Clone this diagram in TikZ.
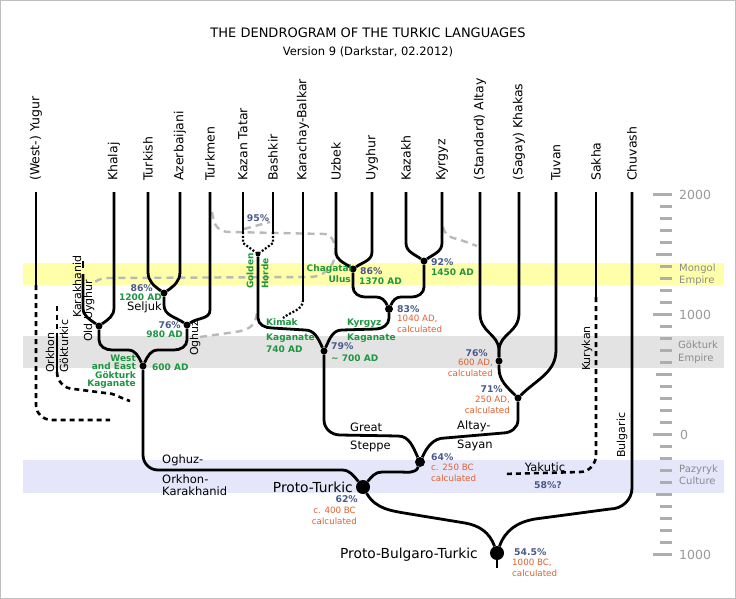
\documentclass[tikz,border=0pt]{standalone}
\usepackage{fontspec}
\setmainfont{DejaVu Sans}
\usepackage{tikz}

\definecolor{pctblue}{HTML}{4A5A8C}
\definecolor{eragreen}{HTML}{1E9640}
\definecolor{calcorange}{HTML}{E0602E}
\definecolor{axisgray}{HTML}{9A9A9A}
\definecolor{mongolband}{HTML}{FFFFAA}
\definecolor{gokturkband}{HTML}{E3E3E3}
\definecolor{pazyrykband}{HTML}{E5E6FA}

\tikzset{
  branch/.style={line width=2.8pt},
  lost/.style={line width=2.6pt, dash pattern=on 5pt off 4pt},
  merged/.style={line width=2.2pt, dash pattern=on 2pt off 1.8pt},
  zone/.style={line width=2.4pt, gray!55, dash pattern=on 7pt off 5pt},
  junction/.style={circle, fill=black, inner sep=0pt, minimum size=#1},
  yeartick/.style={line width=3.2pt, axisgray!80},
  lang/.style={rotate=90, anchor=west, inner sep=0pt, font=\fontsize{12.5}{15}\selectfont},
  vlabel/.style={rotate=90, anchor=west, inner sep=0pt, font=\fontsize{11}{13}\selectfont},
  note/.style={inner sep=0pt, font=\fontsize{11.5}{13}\selectfont},
  proto/.style={inner sep=0pt, font=\fontsize{13.8}{16}\selectfont},
  pct/.style={inner sep=0pt, text=pctblue, font=\fontsize{9.3}{11}\selectfont\bfseries},
  era/.style={inner sep=0pt, text=eragreen, font=\fontsize{9}{10}\selectfont\bfseries},
  calclabel/.style={inner sep=0pt, text=calcorange, font=\fontsize{8.7}{10}\selectfont},
  yearlabel/.style={inner sep=0pt, anchor=west, text=axisgray, font=\fontsize{12.5}{14}\selectfont},
  bandlabel/.style={inner sep=0pt, anchor=west, align=left, text=axisgray!90!black, font=\fontsize{10}{12.5}\selectfont}
}

\begin{document}
\begin{tikzpicture}[x=1pt,y=1pt]
\useasboundingbox (0,0) rectangle (736,-599);
\fill[white] (0,0) rectangle (736,-599);
\draw[gray!50, line width=1pt] (0.5,-0.5) rectangle (735.5,-598.5);

% periods
\fill[mongolband] (23,-263) rectangle (724,-285);
\fill[gokturkband] (23,-336) rectangle (724,-368);
\fill[pazyrykband] (23,-460) rectangle (724,-493);

\node[font=\fontsize{13}{15}\selectfont] (title) at (368,-33) {THE DENDROGRAM OF THE TURKIC LANGUAGES};
\node[font=\fontsize{11.5}{13}\selectfont] (subtitle) at (368,-52) {Version 9 (Darkstar, 02.2012)};

% languages
\foreach \n/\x/\t in {yug/36/(West-) Yugur, kha/114/Khalaj, tur/148/Turkish, aze/180/Azerbaijani,
    tkm/210/Turkmen, tat/243/Kazan Tatar, bas/273/Bashkir, kar/303/Karachay-Balkar,
    uzb/336/Uzbek, uyg/372/Uyghur, kaz/406/Kazakh, kyr/442/Kyrgyz,
    alt/480/(Standard) Altay, khk/519/(Sagay) Khakas, tuv/556/Tuvan, sak/596/Sakha, chu/632/Chuvash}
{
  \coordinate (\n) at (\x,-192);
  \node[lang] (l\n) at (\x,-181) {\t};
}

% time axis
\foreach \yr in {2000,1900,...,-1000}
{
  \pgfmathsetmacro\tickx{mod(\yr,1000)==0 ? 653 : (mod(\yr,500)==0 ? 656 : 660)}
  \draw[yeartick] (\tickx,{-434.5+0.12*\yr}) -- (672,{-434.5+0.12*\yr});
}
\node[yearlabel] (y2000) at (679,-194.5) {2000};
\node[yearlabel] (y1000) at (679,-314.5) {1000};
\node[yearlabel] (y0) at (680,-434.5) {0};
\node[yearlabel] (ym1000) at (679,-554.5) {1000};
\node[bandlabel] (bmongol) at (679,-274.5) {Mongol\\Empire};
\node[bandlabel] (bgokturk) at (678,-352) {Gökturk\\Empire};
\node[bandlabel] (bpazyryk) at (679,-475) {Pazyryk\\Culture};

% areas
\coordinate (zstart) at (212,-212);
\coordinate (zend) at (92,-285);
\draw[zone] (zstart) .. controls (214,-226) and (218,-232) .. (230,-232) -- (325,-234)
  .. controls (333,-235) and (336,-245) .. (335,-255) .. controls (334,-268) and (322,-277) .. (310,-277)
  -- (108,-278) .. controls (100,-278) and (95,-281) .. (zend);
\coordinate (zkt) at (244,-229);
\coordinate (zbs) at (270,-222);
\draw[zone] (zkt) -- (zbs);
\coordinate (zogh) at (200,-337);
\coordinate (zkip) at (257,-312);
\draw[zone] (zogh) -- (235,-332) .. controls (250,-330) and (256,-325) .. (zkip);
\coordinate (zkyr) at (443,-227);
\coordinate (zalt) at (477,-246);
\draw[zone] (zkyr) .. controls (445,-235) and (450,-238) .. (458,-239) -- (zalt);

% junctions
\node[junction=7pt] (oldu) at (99,-326) {};
\node[junction=7pt] (selj) at (164,-293) {};
\node[junction=7pt] (oghz) at (187,-325) {};
\node[junction=7pt] (wegk) at (143,-366) {};
\node[junction=5pt] (gold) at (258,-254) {};
\node[junction=7pt] (kipc) at (324,-351) {};
\node[junction=7pt] (chag) at (353,-269) {};
\node[junction=7pt] (kyrn) at (424,-261) {};
\node[junction=8pt] (kyrk) at (389,-309) {};
\node[junction=7pt] (altn) at (499,-361) {};
\node[junction=7pt] (asay) at (518,-398) {};
\node[junction=10pt] (ctur) at (420,-462) {};
\node[junction=14pt] (ptur) at (363,-487) {};
\node[junction=14pt] (pbt) at (497,-553) {};

% Yugur, Orkhon, Karakhanid
\coordinate (yugs) at (36,-285);
\coordinate (yuge) at (110,-420);
\draw[branch] (yug) -- (yugs);
\draw[lost] (yugs) -- (36,-405) to[out=-90,in=180] (52,-420) -- (yuge);
\coordinate (orkt) at (57,-306);
\coordinate (orks) at (57,-333);
\coordinate (orkb) at (57,-372);
\coordinate (orke) at (130,-401);
\draw[lost] (orkt) -- (orks);
\draw[branch] (orks) -- (orkb);
\draw[lost] (orkb) to[out=-90,in=180] (74,-389) -- (105,-393) to[out=0,in=165] (orke);
\coordinate (karkt) at (83,-261);
\coordinate (karkd) at (83,-268);
\coordinate (karks) at (83,-274);
\draw[branch] (karkt) -- (karkd);
\draw[branch] (karks) -- (83,-308) to[out=-90,in=145] (oldu);
\draw[branch] (kha) -- (114,-308) to[out=-90,in=35] (oldu);

% Oghuz
\draw[branch] (tur) -- (148,-272) to[out=-90,in=145] (selj);
\draw[branch] (aze) -- (180,-272) to[out=-90,in=35] (selj);
\draw[branch] (selj) -- (164,-305) to[out=-90,in=145] (oghz);
\draw[branch] (tkm) -- (210,-310) to[out=-90,in=35] (oghz);
\draw[branch] (oldu) -- (99,-340) to[out=-90,in=180] (112,-350) -- (128,-350) to[out=0,in=115] (wegk);
\draw[branch] (oghz) -- (187,-340) to[out=-90,in=0] (174,-350) -- (158,-350) to[out=180,in=65] (wegk);
\draw[branch] (wegk) -- (143,-455) to[out=-90,in=180] (158,-470) -- (342,-470) to[out=0,in=130] (ptur);

% Kipchak
\coordinate (tatd) at (243,-232);
\coordinate (basd) at (273,-232);
\coordinate (kard) at (303,-300);
\coordinate (kare) at (283,-318);
\draw[branch] (tat) -- (tatd);
\draw[branch] (bas) -- (basd);
\draw[merged] (tatd) -- (243,-243) -- (gold);
\draw[merged] (basd) -- (273,-243) -- (gold);
\draw[branch] (kar) -- (kard);
\draw[merged] (kard) to[out=-90,in=40] (kare);
\draw[branch] (gold) -- (258,-318) to[out=-90,in=180] (272,-328) -- (305,-330) to[out=0,in=115] (kipc);

% Karluk and Kyrgyz
\draw[branch] (uzb) -- (336,-252) to[out=-90,in=145] (chag);
\draw[branch] (uyg) -- (372,-252) to[out=-90,in=35] (chag);
\draw[branch] (kaz) -- (406,-243) to[out=-90,in=145] (kyrn);
\draw[branch] (kyr) -- (442,-243) to[out=-90,in=35] (kyrn);
\draw[branch] (chag) -- (353,-287) to[out=-90,in=180] (365,-297) -- (376,-297) to[out=0,in=115] (kyrk);
\draw[branch] (kyrn) -- (424,-287) to[out=-90,in=0] (412,-297) -- (401,-297) to[out=180,in=65] (kyrk);
\draw[branch] (kyrk) -- (389,-318) to[out=-90,in=0] (376,-329) -- (342,-330) to[out=180,in=65] (kipc);
\draw[branch] (kipc) -- (324,-420) to[out=-90,in=180] (340,-435) -- (398,-436) to[out=0,in=115] (ctur);

% Altay-Sayan
\draw[branch] (alt) -- (480,-313) .. controls (480,-333) and (498,-333) .. (499,-350) -- (altn);
\draw[branch] (khk) -- (519,-313) .. controls (519,-333) and (500,-333) .. (499,-350) -- (altn);
\draw[branch] (altn) -- (499,-368) to[out=-90,in=135] (asay);
\draw[branch] (tuv) -- (556,-350) to[out=-90,in=45] (asay);
\draw[branch] (asay) -- (518,-420) to[out=-90,in=0] (503,-433) -- (445,-438) to[out=180,in=65] (ctur);

% Sakha
\coordinate (saks) at (596,-297);
\coordinate (sake) at (503,-474);
\draw[branch] (sak) -- (saks);
\draw[lost] (saks) -- (596,-455) to[out=-90,in=0] (580,-472) -- (sake);

% roots
\coordinate (pbtb) at (497,-568);
\draw[branch] (ctur) to[out=-110,in=0] (400,-472) -- (382,-472) to[out=180,in=50] (ptur);
\draw[branch] (ptur) to[out=-60,in=170] (410,-514) -- (465,-523) to[out=-10,in=110] (pbt);
\draw[branch] (chu) -- (632,-488) to[out=-90,in=0] (610,-509) -- (535,-519) to[out=190,in=70] (pbt);
\draw[branch] (pbt) -- (pbtb);

% labels
\node[pct, anchor=east] (p86s) at (153,-288) {86\%};
\node[era, anchor=east] (d1200) at (162,-297) {1200 AD};
\node[note, anchor=east] (tselj) at (162,-307) {Seljuk};
\node[pct, anchor=east] (p76o) at (181,-325) {76\%};
\node[era, anchor=east] (d980) at (183,-334) {980 AD};
\node[vlabel] (toghz) at (195,-356) {Oghuz};
\node[era, anchor=west] (d600) at (152,-367) {600 AD};
\node[era, anchor=east, align=right, font=\fontsize{9}{8.4}\selectfont\bfseries] (twegk) at (136,-371.5) {West\\and East\\Gökturk\\Kaganate};
\node[vlabel] (toldu) at (89,-342) {Old Uyghur};
\node[vlabel] (tkarak) at (77,-318) {Karakhanid};
\node[vlabel] (torkh) at (50,-373) {Orkhon};
\node[vlabel] (tgokt) at (64,-373) {Gökturkic};

\node[pct] (p95) at (258,-218) {95\%};
\node[era, rotate=90, anchor=west] (tgold) at (250,-289) {Golden};
\node[era, rotate=90, anchor=west] (thorde) at (265,-289) {Horde};
\node[era, anchor=west] (tkimak) at (266,-322) {Kimak};
\node[era, anchor=west] (tkimkag) at (266,-338) {Kaganate};
\node[era, anchor=west] (d740) at (266,-349) {740 AD};
\node[pct, anchor=west] (p79) at (331,-346) {79\%};
\node[era, anchor=west] (d700) at (331,-358) {\textasciitilde{} 700 AD};

\node[era, anchor=east] (tchag) at (352,-269) {Chagatai};
\node[era, anchor=east] (tulus) at (351,-279) {Ulus};
\node[pct, anchor=west] (p86c) at (360,-271) {86\%};
\node[era, anchor=west] (d1370) at (359,-281) {1370 AD};
\node[pct, anchor=west] (p92) at (431,-262) {92\%};
\node[era, anchor=west] (d1450) at (431,-272) {1450 AD};
\node[pct, anchor=west] (p83) at (397,-309) {83\%};
\node[calclabel, anchor=west] (c1040) at (397,-319) {1040 AD,};
\node[calclabel, anchor=west] (c1040b) at (397,-329) {calculated};
\node[era, anchor=west] (tkyrg) at (347,-323) {Kyrgyz};
\node[era, anchor=west] (tkyrkag) at (347,-338) {Kaganate};

\node[pct, anchor=east] (p76a) at (488,-353) {76\%};
\node[calclabel, anchor=east] (c600) at (493,-363) {600 AD,};
\node[calclabel, anchor=east] (c600b) at (493,-373) {calculated};
\node[pct, anchor=east] (p71) at (503,-389) {71\%};
\node[calclabel, anchor=east] (c250) at (510,-400) {250 AD,};
\node[calclabel, anchor=east] (c250b) at (510,-410) {calculated};
\node[note, anchor=west] (taltay) at (457,-426) {Altay-};
\node[note, anchor=west] (tsayan) at (457,-445) {Sayan};
\node[note, anchor=west] (tgreat) at (350,-427) {Great};
\node[note, anchor=west] (tsteppe) at (350,-446) {Steppe};
\node[pct, anchor=west] (p64) at (431,-457) {64\%};
\node[calclabel, anchor=west] (c250bc) at (431,-467) {c. 250 BC};
\node[calclabel, anchor=west] (c250bcb) at (431,-478) {calculated};

\node[note, anchor=west] (toghuz) at (162,-460) {Oghuz-};
\node[note, anchor=west] (torkhon) at (162,-479) {Orkhon-};
\node[note, anchor=west] (tkarakh) at (162,-491) {Karakhanid};
\node[proto, anchor=east] (tptur) at (353,-487) {Proto-Turkic};
\node[pct, anchor=east] (p62) at (358,-499) {62\%};
\node[calclabel, anchor=east] (c400) at (356,-510) {c. 400 BC};
\node[calclabel, anchor=east] (c400b) at (357,-521) {calculated};
\node[proto, anchor=east] (tpbt) at (478,-555) {Proto-Bulgaro-Turkic};
\node[pct, anchor=west] (p545) at (514,-552) {54.5\%};
\node[calclabel, anchor=west] (c1000) at (512,-563) {1000 BC,};
\node[calclabel, anchor=west] (c1000b) at (512,-573) {calculated};

\node[vlabel] (tkury) at (587,-371) {Kurykan};
\node[vlabel] (tbulg) at (622,-458) {Bulgaric};
\node[note] (tyak) at (545,-467) {Yakutic};
\node[pct] (p58) at (548,-485) {58\%?};
\end{tikzpicture}
\end{document}
